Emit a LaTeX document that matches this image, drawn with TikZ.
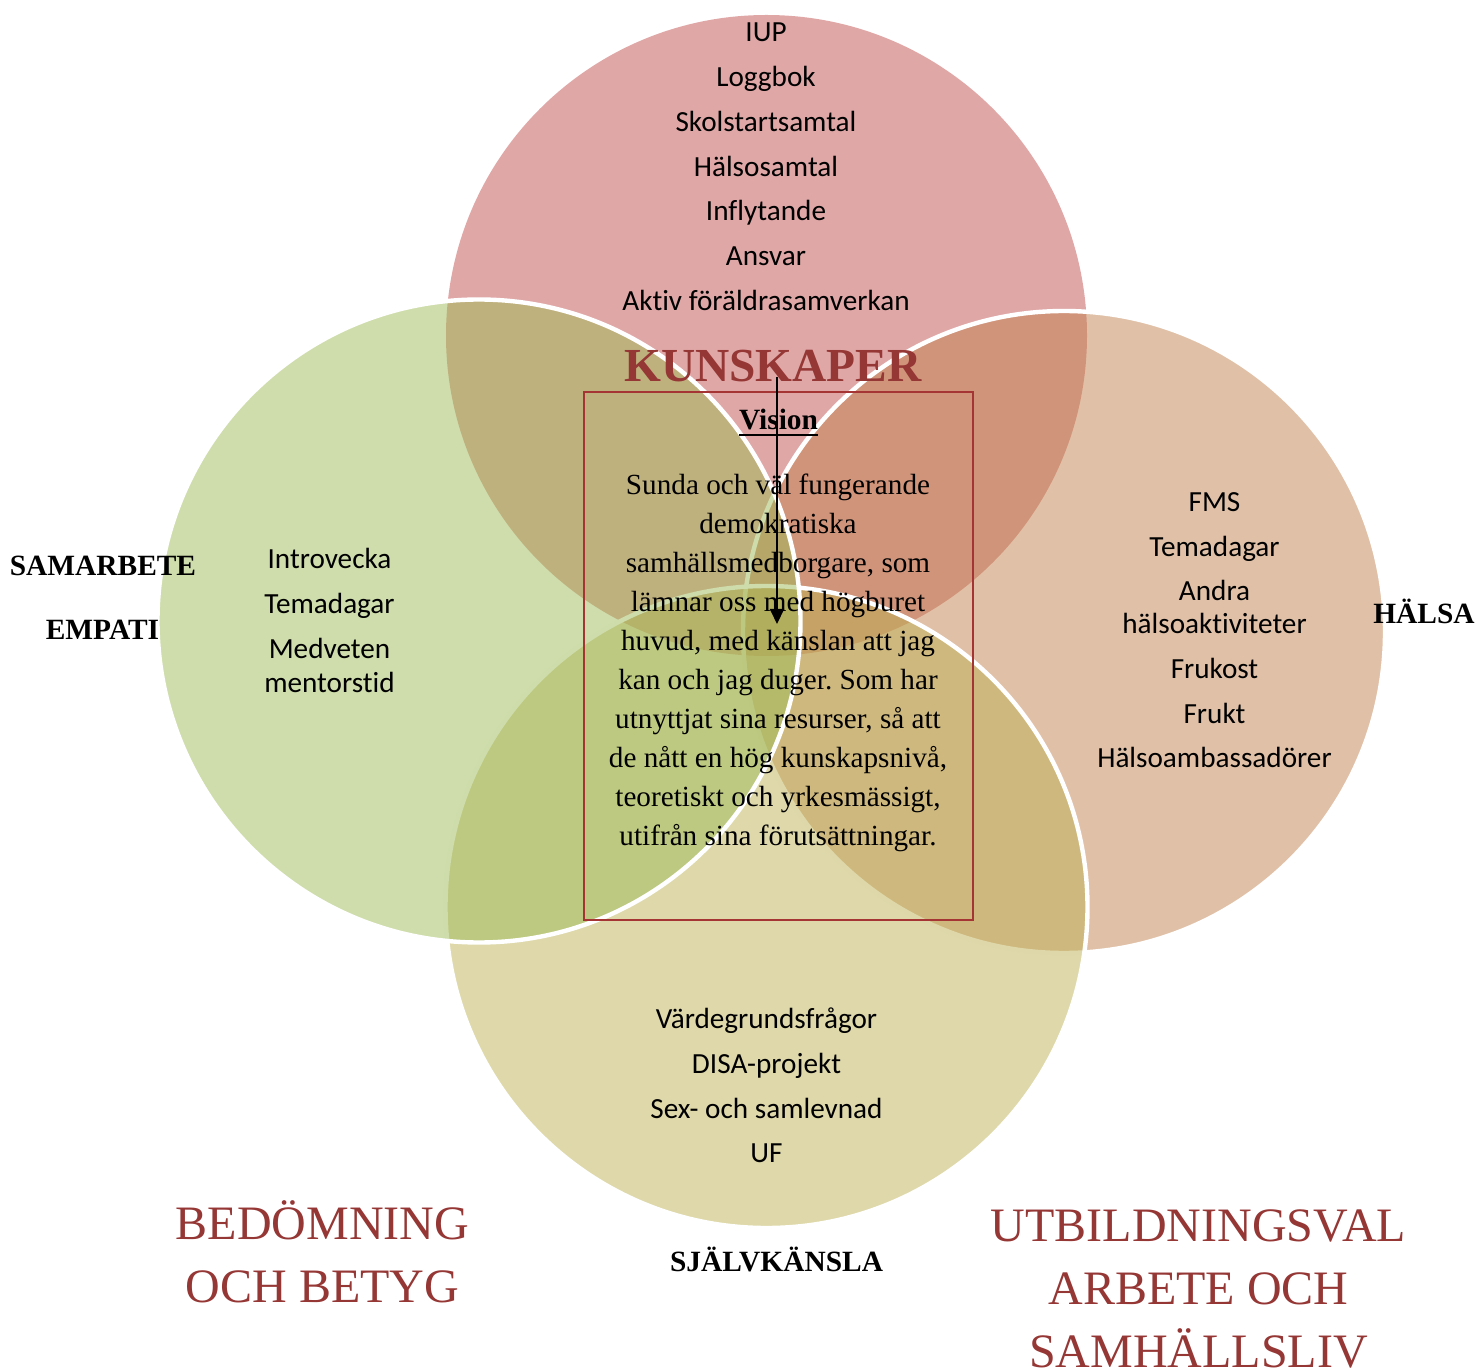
\documentclass[tikz,border=0pt]{standalone}
\usepackage{fontspec}
\setmainfont{Liberation Serif}
\newfontfamily\calibrifont[Ligatures=NoCommon]{Carlito}
\usetikzlibrary{arrows.meta}
\frenchspacing

\definecolor{rosa}{RGB}{193,79,79}
\definecolor{gron}{RGB}{157,187,87}
\definecolor{brun}{RGB}{193,131,79}
\definecolor{gul}{RGB}{189,177,85}
\definecolor{morkrod}{RGB}{149,55,53}
\definecolor{ramrod}{RGB}{165,52,52}

\newcommand{\tjockul}[1]{\setbox0=\hbox{#1}\rlap{\rule[-3pt]{\wd0}{1pt}}\box0}

\begin{document}
\begin{tikzpicture}[x=0.5pt,y=0.5pt,yscale=-1,xscale=1,
  cirkel/.style={fill=#1,fill opacity=0.5,draw=white,line width=2.2pt},
  punkt/.style={anchor=base,inner sep=0pt,font=\calibrifont\fontsize{14.6}{17}\selectfont},
  brodtext/.style={anchor=base,inner sep=0pt,font=\fontsize{14.6}{17.5}\selectfont},
  rubrik/.style={anchor=base,inner sep=0pt,font=\bfseries\fontsize{14.7}{17.5}\selectfont},
  omrade/.style={anchor=base,inner sep=0pt,text=morkrod,font=\fontsize{24}{30}\selectfont}]
\useasboundingbox (0,0) rectangle (1477,1368);

%Shape: Circle [kunskaper]
\draw [cirkel=rosa,draw=none] (766.5,335.5) circle [radius=160.25pt];
%Shape: Circle [halsa]
\draw [cirkel=brun] (1064,632) circle [radius=160.5pt];
%Shape: Circle [sjalvkansla]
\draw [cirkel=gul] (766.5,907) circle [radius=160.5pt];
%Shape: Circle [samarbete]
\draw [cirkel=gron] (479,621) circle [radius=160.75pt];

%Shape: Rectangle
\draw [draw=ramrod,line width=1pt] (584,392) rectangle (973,920);

% Text Node
\node [punkt] (iup) at (766,41.7) {IUP};
% Text Node
\node [punkt] (loggbok) at (766,86.5) {Loggbok};
% Text Node
\node [punkt] (skolstart) at (766,131.3) {Skolstartsamtal};
% Text Node
\node [punkt] (halsosamtal) at (766,176.1) {Hälsosamtal};
% Text Node
\node [punkt] (inflytande) at (766,220.9) {Inflytande};
% Text Node
\node [punkt] (ansvar) at (766,265.7) {Ansvar};
% Text Node
\node [punkt] (foraldrar) at (766,310.5) {Aktiv föräldrasamverkan};

% Text Node
\node [anchor=base,inner sep=0pt,text=morkrod,font=\bfseries\fontsize{23.7}{28}\selectfont] (kunskaper) at (773,381.7) {KUNSKAPER};
% Text Node
\node [rubrik] (vision) at (778.5,430) {\tjockul{Vision}};

% Text Node
\node [brodtext] (rad1) at (778,495) {Sunda och väl fungerande};
% Text Node
\node [brodtext] (rad2) at (778,533.9) {demokratiska};
% Text Node
\node [brodtext] (rad3) at (778,572.8) {samhällsmedborgare, som};
% Text Node
\node [brodtext] (rad4) at (778,611.7) {lämnar oss med högburet};
% Text Node
\node [brodtext] (rad5) at (778,650.6) {huvud, med känslan att jag};
% Text Node
\node [brodtext] (rad6) at (778,689.5) {kan och jag duger. Som har};
% Text Node
\node [brodtext] (rad7) at (778,728.4) {utnyttjat sina resurser, så att};
% Text Node
\node [brodtext] (rad8) at (778,767.3) {de nått en hög kunskapsnivå,};
% Text Node
\node [brodtext] (rad9) at (778,806.2) {teoretiskt och yrkesmässigt,};
% Text Node
\node [brodtext] (rad10) at (778,845.1) {utifrån sina förutsättningar.};

%Straight Lines [id:pil]
\coordinate (piltopp) at (777,377);
\coordinate (pilspets) at (777,624);
\draw [line width=1pt,-{Triangle[length=7.5pt,width=7pt]}] (piltopp) -- (pilspets);

% Text Node
\node [rubrik] (samarbete) at (103,575.5) {SAMARBETE};
% Text Node
\node [rubrik] (empati) at (102.5,640) {EMPATI};
% Text Node
\node [punkt] (introvecka) at (329.5,569) {Introvecka};
% Text Node
\node [punkt] (temadagarv) at (329.5,614) {Temadagar};
% Text Node
\node [punkt] (medveten) at (329.5,659) {Medveten};
% Text Node
\node [punkt] (mentorstid) at (329.5,692) {mentorstid};

% Text Node
\node [punkt] (fms) at (1214.5,512) {FMS};
% Text Node
\node [punkt] (temadagarh) at (1214.5,557) {Temadagar};
% Text Node
\node [punkt] (andra) at (1214.5,601) {Andra};
% Text Node
\node [punkt] (halsoakt) at (1214.5,634) {hälsoaktiviteter};
% Text Node
\node [punkt] (frukost) at (1214.5,678.5) {Frukost};
% Text Node
\node [punkt] (frukt) at (1214.5,723) {Frukt};
% Text Node
\node [punkt] (ambassadorer) at (1214.5,767.5) {Hälsoambassadörer};
% Text Node
\node [rubrik] (halsa) at (1424,624) {HÄLSA};

% Text Node
\node [punkt] (vardegrund) at (766.5,1028) {Värdegrundsfrågor};
% Text Node
\node [punkt] (disa) at (766.5,1073) {DISA-projekt};
% Text Node
\node [punkt] (samlevnad) at (766.5,1118) {Sex- och samlevnad};
% Text Node
\node [punkt] (uf) at (766.5,1162) {UF};
% Text Node
\node [rubrik] (sjalvkansla) at (776.5,1271) {SJÄLVKÄNSLA};

% Text Node
\node [omrade] (bedomning) at (322.5,1239) {BEDÖMNING};
% Text Node
\node [omrade] (betyg) at (322.5,1302) {OCH BETYG};
% Text Node
\node [omrade] (utbildningsval) at (1198.5,1241) {UTBILDNINGSVAL};
% Text Node
\node [omrade] (arbete) at (1198.5,1304) {ARBETE OCH};
% Text Node
\node [omrade] (samhallsliv) at (1198.5,1367) {SAMHÄLLSLIV};

\end{tikzpicture}
\end{document}
